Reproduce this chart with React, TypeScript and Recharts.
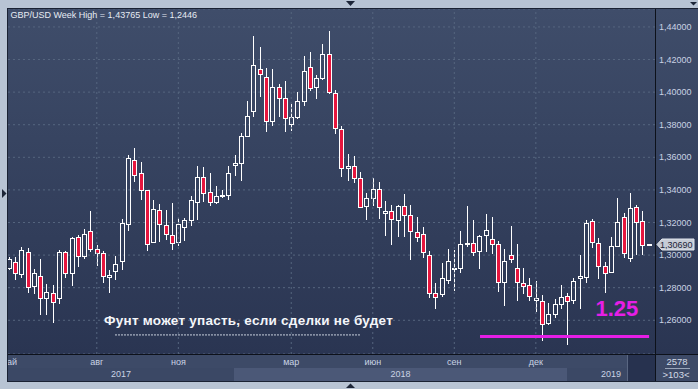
import React from "react";
import {
  ComposedChart,
  Bar,
  XAxis,
  YAxis,
  CartesianGrid,
  ReferenceLine,
} from "recharts";

// weekly GBP/USD candles
const opens = [
  1.2923, 1.296, 1.2883, 1.3016, 1.2811, 1.287, 1.2739, 1.277, 1.2739, 1.3016,
  1.2887, 1.3108, 1.2995, 1.3145, 1.304, 1.301, 1.2868, 1.2903, 1.2961, 1.319,
  1.3583, 1.3503, 1.3399, 1.3078, 1.3276, 1.3184, 1.3123, 1.3078, 1.3172, 1.3215,
  1.3327, 1.3479, 1.3387, 1.3325, 1.3362, 1.337, 1.3555, 1.3567, 1.3731, 1.3887,
  1.4142, 1.4092, 1.3822, 1.4031, 1.3963, 1.3803, 1.385, 1.3943, 1.4154, 1.4029,
  1.4084, 1.4234, 1.3997, 1.3774, 1.3534, 1.3546, 1.3472, 1.3303, 1.3349, 1.3404,
  1.326, 1.3268, 1.3217, 1.3299, 1.3248, 1.3139, 1.3127, 1.2999, 1.2769, 1.2763,
  1.285, 1.2915, 1.2922, 1.3069, 1.3077, 1.3026, 1.3126, 1.3096, 1.3065, 1.2832,
  1.3003, 1.2922, 1.283, 1.2819, 1.2727, 1.2717, 1.2584, 1.2641, 1.2697, 1.2746,
  1.2727, 1.2861, 1.2867, 1.3207, 1.3072, 1.293, 1.2898, 1.3057, 1.3232, 1.2984,
  1.3293, 1.3207, 1.3068,
];
const highs = [
  1.299, 1.2989, 1.3051, 1.3044, 1.2917, 1.2975, 1.2821, 1.2815, 1.303, 1.3024,
  1.3112, 1.3122, 1.3157, 1.327, 1.306, 1.3024, 1.2911, 1.2993, 1.3223, 1.3616,
  1.3657, 1.3571, 1.34, 1.334, 1.3315, 1.3278, 1.3321, 1.3227, 1.3227, 1.3363,
  1.3548, 1.3542, 1.3503, 1.3426, 1.3401, 1.3547, 1.3614, 1.3748, 1.3947, 1.4347,
  1.4277, 1.4148, 1.4142, 1.4049, 1.407, 1.3928, 1.3998, 1.4224, 1.4248, 1.4107,
  1.4297, 1.43765, 1.4016, 1.3795, 1.3622, 1.361, 1.3507, 1.3379, 1.3472, 1.3447,
  1.333, 1.3309, 1.3307, 1.3377, 1.3309, 1.3231, 1.3172, 1.3026, 1.2829, 1.2954,
  1.304, 1.303, 1.3147, 1.33, 1.3214, 1.3126, 1.3255, 1.3231, 1.3087, 1.304,
  1.3177, 1.3071, 1.2922, 1.2862, 1.284, 1.2758, 1.2703, 1.2733, 1.2815, 1.277,
  1.2861, 1.3, 1.3215, 1.322, 1.3107, 1.2955, 1.3113, 1.3353, 1.3256, 1.3384,
  1.3308, 1.3271, 1.307,
];
const lows = [
  1.291, 1.2846, 1.2862, 1.2768, 1.276, 1.263, 1.263, 1.2583, 1.2702, 1.286,
  1.2811, 1.2928, 1.2979, 1.302, 1.2932, 1.2829, 1.2768, 1.285, 1.2906, 1.3149,
  1.3446, 1.334, 1.3023, 1.3074, 1.3081, 1.3094, 1.3033, 1.3053, 1.3086, 1.3181,
  1.3217, 1.3325, 1.3299, 1.3313, 1.335, 1.334, 1.3485, 1.3457, 1.3727, 1.385,
  1.3973, 1.3758, 1.3789, 1.385, 1.3756, 1.3764, 1.3838, 1.3917, 1.4004, 1.3959,
  1.4072, 1.399, 1.3745, 1.3482, 1.3457, 1.3445, 1.3292, 1.3215, 1.3303, 1.3221,
  1.3116, 1.3063, 1.3112, 1.3112, 1.2968, 1.3083, 1.2985, 1.2734, 1.2672, 1.2742,
  1.2825, 1.278, 1.2891, 1.305, 1.2993, 1.2913, 1.302, 1.3006, 1.2774, 1.2686,
  1.2952, 1.2719, 1.2764, 1.2719, 1.2651, 1.2473, 1.257, 1.2614, 1.2672, 1.2446,
  1.2699, 1.2668, 1.2826, 1.3041, 1.2851, 1.277, 1.2891, 1.3047, 1.298, 1.2959,
  1.3, 1.3, 1.3066,
];
const closes = [
  1.2979, 1.2887, 1.3034, 1.2805, 1.2893, 1.2739, 1.2776, 1.2712, 1.3016, 1.2887,
  1.3102, 1.2993, 1.313, 1.304, 1.301, 1.2874, 1.288, 1.2948, 1.3196, 1.3595,
  1.3491, 1.3399, 1.3068, 1.3283, 1.319, 1.3129, 1.3074, 1.319, 1.3215, 1.3338,
  1.3479, 1.3381, 1.3325, 1.3363, 1.3366, 1.3502, 1.3563, 1.3731, 1.3854, 1.4168,
  1.4111, 1.3822, 1.4031, 1.3963, 1.3842, 1.3846, 1.3947, 1.4131, 1.4025, 1.4086,
  1.4236, 1.4, 1.378, 1.3534, 1.3546, 1.347, 1.3297, 1.3349, 1.3404, 1.3297,
  1.3268, 1.3223, 1.3299, 1.3248, 1.3149, 1.3112, 1.302, 1.2769, 1.2744, 1.2861,
  1.2963, 1.2922, 1.3065, 1.3077, 1.302, 1.3116, 1.3153, 1.3069, 1.2832, 1.2963,
  1.2973, 1.2832, 1.2809, 1.275, 1.2735, 1.258, 1.2637, 1.2697, 1.2744, 1.2721,
  1.2838, 1.2869, 1.3195, 1.3078, 1.2936, 1.2887, 1.3055, 1.3201, 1.3014, 1.3287,
  1.3205, 1.3059, 1.3069,
];

const monthIdx = [0, 14, 27, 45, 58, 71, 84];
const monthNames = ["май", "авг", "ноя", "мар", "июн", "сен", "дек"];
const yearNames = ["2017", "2018", "2019"];
const yearStart = [-0.16, 35.9, 88.9];
const priceTicks = [1.26, 1.28, 1.3, 1.32, 1.34, 1.36, 1.38, 1.4, 1.42, 1.44];
const lastPrice = 1.3069;
const support = 1.25;
const supportFrom = 75.1;
const supportTo = 102.06;
const noteLevel = 1.251;
const noteFrom = 16.9;
const noteTo = 56.1;

const data = opens.map((o, i) => ({
  i,
  open: o,
  high: highs[i],
  low: lows[i],
  close: closes[i],
  range: [lows[i], highs[i]],
}));

const X_DOMAIN: [number, number] = [-0.16, 103.0];
const Y_DOMAIN: [number, number] = [1.2393, 1.451];
const PLOT_L = 8;
const PLOT_R = 655;

const FRAME = "#b8c4d4";
const GRID = "#56667f";
const RED = "#e6163e";
const MAGENTA = "#e61ee6";
const FONT = "'Liberation Sans', Arial, sans-serif";

// same linear mapping the x axis uses, for the year strip only
const xPix = (i: number) =>
  PLOT_L + ((i - X_DOMAIN[0]) / (X_DOMAIN[1] - X_DOMAIN[0])) * (PLOT_R - PLOT_L);

const fmtPrice = (v: number) => v.toFixed(5).replace(".", ",");

function Candle(props: any) {
  const { x, y, width, height, payload } = props;
  if (x == null || y == null || !payload) return null;
  const { open, close, high, low } = payload;
  const yTop = Math.min(y, y + height);
  const h = Math.abs(height);
  const k = high > low ? h / (high - low) : 0;
  const py = (v: number) => yTop + (high - v) * k;
  const cx = Math.floor(x + width / 2) + 0.5;
  const top = Math.round(py(Math.max(open, close))) + 0.5;
  let bot = Math.round(py(Math.min(open, close))) + 0.5;
  if (bot - top < 1) bot = top + 1;
  const up = close >= open;
  return (
    <g>
      <line x1={cx} x2={cx} y1={Math.round(yTop)} y2={top} stroke="#fff" />
      <line x1={cx} x2={cx} y1={bot} y2={Math.round(yTop + h)} stroke="#fff" />
      <rect
        x={cx - 2}
        y={top}
        width={4}
        height={bot - top}
        fill={up ? "none" : RED}
        stroke="#fff"
      />
    </g>
  );
}

function MonthTick(props: any) {
  const { x, y, payload } = props;
  const k = monthIdx.indexOf(payload.value);
  return (
    <text
      x={x}
      y={y + 11.3}
      textAnchor="middle"
      fontSize={9}
      fontFamily={FONT}
      fill="#c9d3e4"
    >
      {monthNames[k]}
    </text>
  );
}

function PriceTag(props: any) {
  const vb = props.viewBox;
  if (!vb) return null;
  const x = vb.x + vb.width + 2;
  const y = Math.round(vb.y) + 0.5;
  return (
    <g>
      <polygon
        points={`${x},${y} ${x + 5},${y - 5.5} ${x + 37},${y - 5.5} ${x + 37},${y + 5.5} ${x + 5},${y + 5.5}`}
        fill="#c6ccd6"
        stroke="#e3e7ee"
      />
      <text x={x + 3} y={y + 3.3} fontSize={9} fontFamily={FONT} fill="#1c2436">
        {fmtPrice(lastPrice)}
      </text>
    </g>
  );
}

export default function App() {
  return (
    <div
      style={{
        position: "absolute",
        left: 0,
        top: 0,
        width: 698,
        height: 389,
        background: FRAME,
        overflow: "hidden",
      }}
    >
      <style>{`body{margin:0}`}</style>
      {/* plot + price column background */}
      <div
        style={{
          position: "absolute",
          left: 8,
          top: 9,
          width: 690,
          height: 345,
          background: "linear-gradient(#3f4d6a, #2a3552)",
        }}
      />
      {/* time axis background */}
      <div
        style={{
          position: "absolute",
          left: 8,
          top: 354,
          width: 690,
          height: 27,
          background: "#3d4a67",
        }}
      />
      <div style={{ position: "absolute", left: 0, top: 0 }}>
        <ComposedChart
          width={698}
          height={389}
          data={data}
          margin={{ top: 9, right: 0, bottom: 0, left: PLOT_L }}
        >
          <CartesianGrid
            vertical={false}
            stroke={GRID}
            strokeDasharray="2 3"
          />
          <XAxis
            type="number"
            dataKey="i"
            domain={X_DOMAIN}
            allowDataOverflow
            ticks={monthIdx}
            interval={0}
            tick={<MonthTick />}
            tickLine={false}
            axisLine={false}
            tickSize={0}
            tickMargin={0}
            height={35}
          />
          <YAxis
            orientation="right"
            domain={Y_DOMAIN}
            allowDataOverflow
            ticks={priceTicks}
            interval={0}
            tickFormatter={fmtPrice}
            tick={{ fill: "#c9d3e4", fontSize: 9, fontFamily: FONT }}
            tickLine={false}
            axisLine={false}
            tickSize={4}
            tickMargin={0}
            width={43}
          />
          {monthIdx.slice(1).map((m) => (
            <ReferenceLine
              key={m}
              x={m}
              stroke={GRID}
              strokeDasharray="2 3"
            />
          ))}
          <Bar
            dataKey="range"
            barSize={5}
            shape={<Candle />}
            isAnimationActive={false}
          />
          <ReferenceLine
            segment={[
              { x: noteFrom, y: noteLevel },
              { x: noteTo, y: noteLevel },
            ]}
            stroke="#c9d1de"
            strokeDasharray="2 1"
          />
          <ReferenceLine
            segment={[
              { x: supportFrom, y: support },
              { x: supportTo, y: support },
            ]}
            stroke={MAGENTA}
            strokeWidth={3}
          />
          <ReferenceLine
            y={lastPrice}
            stroke="none"
            label={<PriceTag />}
          />
        </ComposedChart>
      </div>
      {/* frame, strips and captions */}
      <svg
        width={698}
        height={389}
        style={{ position: "absolute", left: 0, top: 0, pointerEvents: "none" }}
      >
        {yearNames.map((name, k) => {
          const x0 = Math.round(xPix(yearStart[k]));
          const x1 = k + 1 < yearStart.length ? Math.round(xPix(yearStart[k + 1])) : 655;
          return (
            <g key={name}>
              <rect
                x={x0}
                y={368}
                width={x1 - x0}
                height={13}
                fill={k % 2 === 1 ? "#4b5877" : "#3b4865"}
              />
              <text
                x={(x0 + x1) / 2}
                y={377.3}
                textAnchor="middle"
                fontSize={9}
                fontFamily={FONT}
                fill="#c9d3e4"
              >
                {name}
              </text>
            </g>
          );
        })}
        <rect x={627} y={355} width={28} height={26} fill="#27324f" />
        <line x1={627.5} x2={627.5} y1={355} y2={381} stroke="#5a6782" />

        <text x={677} y={364.6} textAnchor="middle" fontSize={9.5} fontFamily={FONT} fill="#d3dae6">
          2578
        </text>
        <line x1={665} x2={690} y1={368.5} y2={368.5} stroke="#9aa6ba" />
        <text x={676} y={378} textAnchor="middle" fontSize={9.5} fontFamily={FONT} fill="#d3dae6">
          {">103<"}
        </text>

        <rect x={0} y={0} width={698} height={8} fill={FRAME} />
        <rect x={0} y={0} width={7} height={389} fill={FRAME} />
        <rect x={0} y={382} width={698} height={7} fill={FRAME} />
        <rect x={7} y={8} width={691} height={1} fill="#1a2233" />
        <rect x={7} y={8} width={1} height={374} fill="#1a2233" />
        <rect x={7} y={381} width={691} height={1} fill="#1a2233" />
        <rect x={8} y={354} width={690} height={1} fill="#0d111a" />
        <rect x={655} y={9} width={1} height={372} fill="#0d111a" />

        <polygon points="346,1 355,1 350.5,6" fill="#1d2638" />
        <polygon points="346,388 355,388 350.5,383.5" fill="#1d2638" />
        <polygon points="2,189 2,198 6.5,193.5" fill="#1d2638" />
        <polygon points="690,2 697,2 693.5,5.5" fill="#1d2638" />

        <text x={10.5} y={18.3} fontSize={9} fontFamily={FONT} fill="#e6ebf3">
          GBP/USD Week High = 1,43765 Low = 1,2446
        </text>
        <text
          x={104}
          y={324.5}
          fontSize={13.5}
          letterSpacing={0.25}
          fontWeight="bold"
          fontFamily={FONT}
          fill="#f4f6fa"
        >
          Фунт может упасть, если сделки не будет
        </text>
        <text
          x={595.5}
          y={316.3}
          fontSize={22}
          fontWeight="bold"
          fontFamily={FONT}
          fill={MAGENTA}
        >
          1.25
        </text>
      </svg>
    </div>
  );
}
